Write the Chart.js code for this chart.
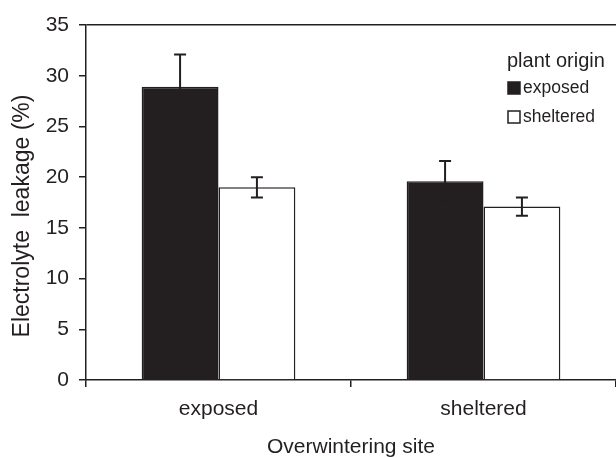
<!DOCTYPE html>
<html>
<head>
<meta charset="utf-8">
<script src="https://cdn.jsdelivr.net/npm/chart.js@4.4.1/dist/chart.umd.min.js"></script>
<style>
  html, body { margin: 0; padding: 0; background: #fff; }
  #wrap { width: 616px; height: 458px; }
</style>
</head>
<body>
<div id="wrap"><canvas id="chart"></canvas></div>
<script>
const Sites = ["exposed", "sheltered"];
const ExposedMean = [28.9, 19.6];
const ExposedErr = [3.2, 2.0];
const ShelteredMean = [19.0, 17.1];
const ShelteredErr = [1.0, 0.9];
const YTicks = [0, 5, 10, 15, 20, 25, 30, 35];
const YTitle = "Electrolyte  leakage (%)";

const Ink = "#231f20";
const FontName = "'Liberation Sans', Arial, sans-serif";

// whiskers on top of the bars
const errorBars = {
    id: 'errorBars',
    afterDatasetsDraw(chart) {
        const ctx = chart.ctx;
        const y = chart.scales.y;
        ctx.save();
        ctx.strokeStyle = Ink;
        ctx.lineWidth = 2;
        chart.data.datasets.forEach(function (ds, i) {
            const meta = chart.getDatasetMeta(i);
            meta.data.forEach(function (bar, j) {
                const v = ds.data[j];
                const e = ds.errors[j];
                const top = y.getPixelForValue(v + e);
                const bot = y.getPixelForValue(v - e);
                ctx.beginPath();
                ctx.moveTo(bar.x, top);
                ctx.lineTo(bar.x, bot);
                ctx.moveTo(bar.x - 6, top);
                ctx.lineTo(bar.x + 6, top);
                ctx.moveTo(bar.x - 6, bot);
                ctx.lineTo(bar.x + 6, bot);
                ctx.stroke();
            });
        });
        ctx.restore();
    }
};

// legend box in the upper right, and the y title (sits a bit low in the original)
const originLegend = {
    id: 'originLegend',
    afterDraw(chart) {
        const ctx = chart.ctx;
        const x = 507;
        ctx.save();
        ctx.fillStyle = Ink;
        ctx.textBaseline = 'middle';
        ctx.textAlign = 'left';
        ctx.font = "20px " + FontName;
        ctx.fillText("plant origin", x, 61);
        ctx.font = "17.5px " + FontName;
        chart.data.datasets.forEach(function (ds, i) {
            const cy = 88 + i * 29;
            ctx.fillStyle = ds.backgroundColor;
            ctx.fillRect(x + 1, cy - 6, 12, 12);
            ctx.strokeStyle = Ink;
            ctx.lineWidth = 1.5;
            ctx.strokeRect(x + 1, cy - 6, 12, 12);
            ctx.fillStyle = Ink;
            ctx.fillText(ds.label, x + 16, cy);
        });

        ctx.translate(23, 216);
        ctx.rotate(-Math.PI / 2);
        ctx.textAlign = 'center';
        ctx.font = "23px " + FontName;
        ctx.fillStyle = Ink;
        ctx.fillText(YTitle, 0, 0);
        ctx.restore();
    }
};

new Chart(document.getElementById("chart"), {
    type: 'bar',
    data: {
        labels: Sites,
        datasets: [{
            label: "exposed",
            data: ExposedMean,
            errors: ExposedErr,
            backgroundColor: Ink,
            borderColor: Ink,
            borderWidth: 1.5
        }, {
            label: "sheltered",
            data: ShelteredMean,
            errors: ShelteredErr,
            backgroundColor: "#ffffff",
            borderColor: Ink,
            borderWidth: 1.5
        }]
    },
    plugins: [errorBars, originLegend],
    options: {
        responsive: true,
        maintainAspectRatio: false,
        animation: false,
        devicePixelRatio: 1,
        layout: { padding: { top: 25, right: 0, bottom: 0, left: 0 } },
        categoryPercentage: 0.58,
        barPercentage: 1.0,
        plugins: {
            legend: { display: false },
            tooltip: { enabled: false }
        },
        scales: {
            x: {
                grid: {
                    offset: true,
                    drawOnChartArea: false,
                    color: Ink,
                    tickLength: 7,
                    lineWidth: 1.5
                },
                border: { color: Ink, width: 1.5 },
                ticks: {
                    color: Ink,
                    padding: 10,
                    font: { family: FontName, size: 21 }
                },
                title: {
                    display: true,
                    text: "Overwintering site",
                    color: Ink,
                    padding: { top: 0, bottom: 0 },
                    font: { family: FontName, size: 21, lineHeight: 1 }
                },
                afterFit(scale) { scale.height = 78; }
            },
            y: {
                min: 0,
                max: 35,
                afterBuildTicks(scale) {
                    scale.ticks = YTicks.map(v => ({ value: v }));
                },
                grid: {
                    color: c => (c.tick && c.tick.value === 35) ? Ink : 'rgba(0,0,0,0)',
                    tickColor: Ink,
                    tickLength: 7,
                    lineWidth: 1.5
                },
                border: { color: Ink, width: 1.5 },
                ticks: {
                    color: Ink,
                    padding: 10,
                    font: { family: FontName, size: 21 }
                },
                afterFit(scale) { scale.width = 86; }
            }
        }
    }
});
</script>
</body>
</html>
